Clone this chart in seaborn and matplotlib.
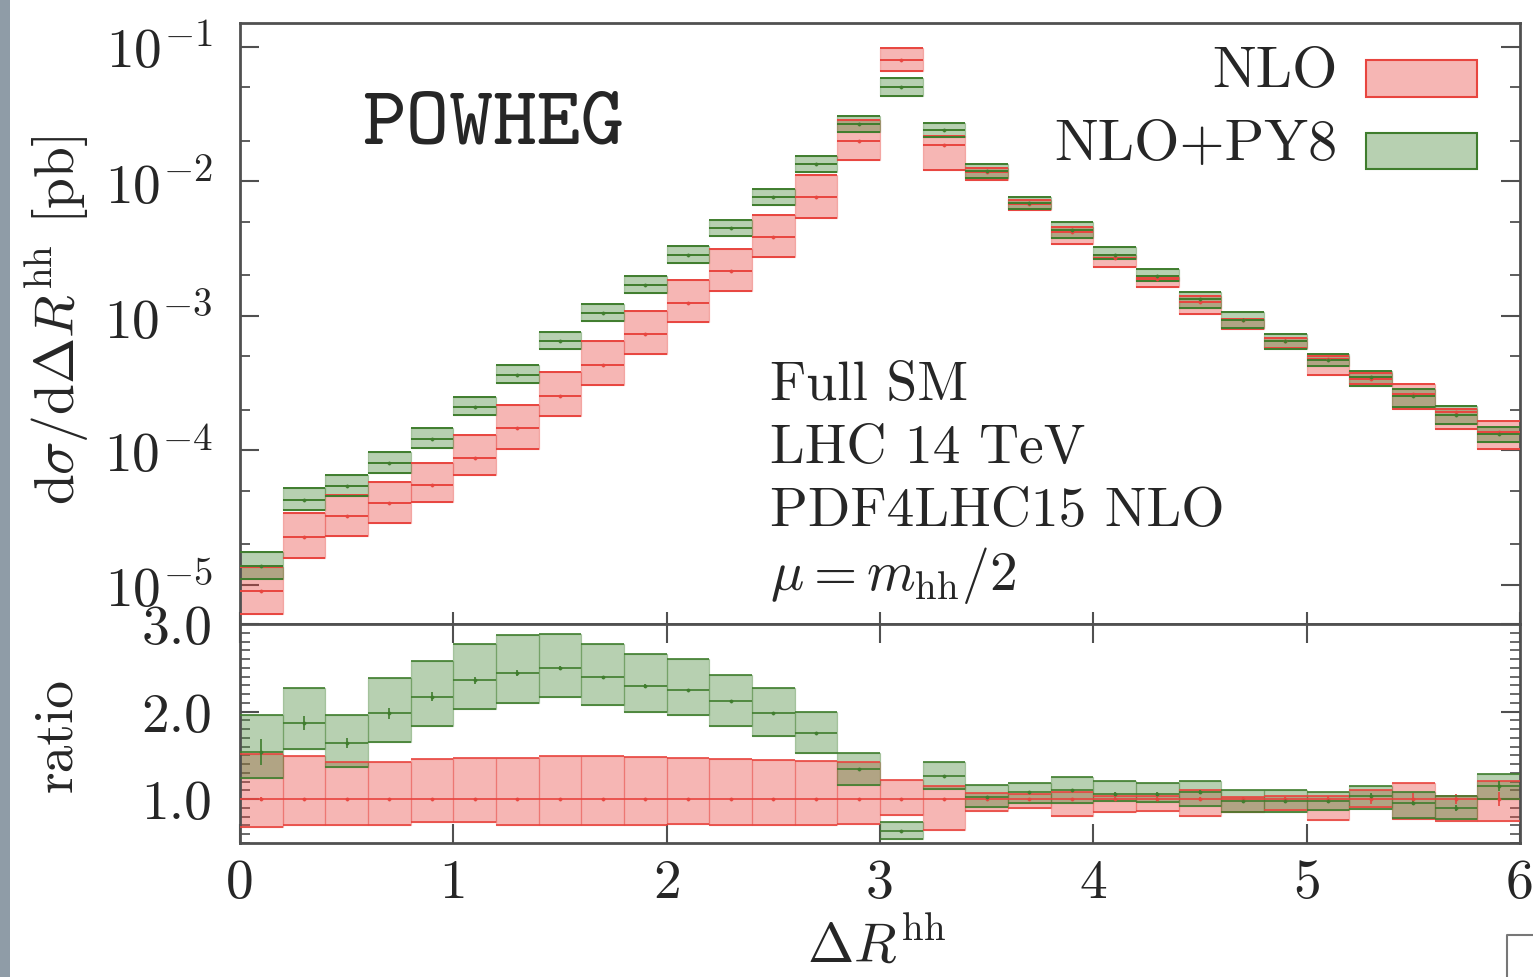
import numpy as np
import matplotlib
matplotlib.use("Agg")
import matplotlib.pyplot as plt
import seaborn as sns
from matplotlib.patches import Rectangle
from matplotlib.lines import Line2D
from matplotlib.colors import to_rgba
from matplotlib.ticker import FixedLocator, MultipleLocator, NullFormatter

# ---------------- data ----------------
bin_left = [0.0, 0.2, 0.4, 0.6, 0.8, 1.0, 1.2, 1.4, 1.6, 1.8,
            2.0, 2.2, 2.4, 2.6, 2.8, 3.0, 3.2, 3.4, 3.6, 3.8,
            4.0, 4.2, 4.4, 4.6, 4.8, 5.0, 5.2, 5.4, 5.6, 5.8]
bin_width = 0.2

# top panel: central values [pb]
nlo_xsec = [8.9e-6, 2.27e-5, 3.26e-5, 4.07e-5, 5.54e-5, 8.8e-5, 1.47e-4, 2.54e-4, 4.32e-4, 7.35e-4,
            1.25e-3, 2.16e-3, 3.87e-3, 7.67e-3, 2.0e-2, 8.0e-2, 1.87e-2, 1.18e-2, 6.81e-3, 4.21e-3,
            2.70e-3, 1.88e-3, 1.27e-3, 9.33e-4, 6.52e-4, 4.79e-4, 3.40e-4, 2.63e-4, 1.93e-4, 1.37e-4]
py8_xsec = [1.38e-5, 4.29e-5, 5.45e-5, 8.07e-5, 1.22e-4, 2.11e-4, 3.64e-4, 6.52e-4, 1.05e-3, 1.70e-3,
            2.84e-3, 4.51e-3, 7.67e-3, 1.35e-2, 2.68e-2, 5.04e-2, 2.42e-2, 1.20e-2, 6.93e-3, 4.35e-3,
            2.84e-3, 1.98e-3, 1.34e-3, 9.33e-4, 6.52e-4, 4.71e-4, 3.52e-4, 2.54e-4, 1.84e-4, 1.33e-4]

# ratio panel: NLO scale band relative to NLO central
nlo_ratio_lo = [0.68, 0.70, 0.70, 0.71, 0.74, 0.74, 0.70, 0.71, 0.71, 0.71,
                0.72, 0.71, 0.71, 0.70, 0.72, 0.82, 0.65, 0.87, 0.90, 0.81,
                0.85, 0.87, 0.81, 0.85, 0.88, 0.76, 0.91, 0.77, 0.75, 0.75]
nlo_ratio_hi = [1.52, 1.49, 1.43, 1.43, 1.46, 1.47, 1.47, 1.49, 1.49, 1.48,
                1.47, 1.46, 1.45, 1.44, 1.43, 1.22, 1.15, 1.07, 1.06, 1.08,
                1.04, 1.04, 1.10, 1.02, 1.04, 1.04, 1.10, 1.18, 1.04, 1.21]
# ratio panel: NLO+PY8 relative to NLO central
py8_ratio = [1.54, 1.87, 1.64, 1.98, 2.17, 2.36, 2.44, 2.50, 2.39, 2.29,
             2.25, 2.12, 1.98, 1.76, 1.34, 0.64, 1.27, 1.03, 1.08, 1.10,
             1.06, 1.06, 1.08, 0.98, 0.98, 0.98, 1.04, 0.96, 0.90, 1.15]
py8_ratio_lo = [1.24, 1.57, 1.37, 1.65, 1.84, 2.03, 2.10, 2.17, 2.07, 1.99,
                1.96, 1.83, 1.72, 1.53, 1.16, 0.55, 1.12, 0.91, 0.96, 0.96,
                0.98, 0.97, 0.92, 0.85, 0.85, 0.88, 0.89, 0.79, 0.77, 1.00]
py8_ratio_hi = [1.96, 2.27, 1.96, 2.38, 2.58, 2.77, 2.87, 2.89, 2.77, 2.66,
                2.60, 2.42, 2.27, 2.00, 1.53, 0.74, 1.43, 1.16, 1.18, 1.25,
                1.21, 1.19, 1.21, 1.11, 1.10, 1.08, 1.15, 1.08, 1.04, 1.29]
py8_ratio_stat = [0.15, 0.08, 0.06, 0.06, 0.05, 0.04, 0.03, 0.02, 0.02, 0.02,
                  0.01, 0.01, 0.01, 0.01, 0.01, 0.01, 0.01, 0.01, 0.01, 0.01,
                  0.02, 0.02, 0.02, 0.02, 0.02, 0.02, 0.03, 0.03, 0.03, 0.06]
nlo_ratio_stat = [0.02, 0.01, 0.01, 0.01, 0.01, 0.01, 0.01, 0.01, 0.01, 0.01,
                  0.01, 0.01, 0.01, 0.01, 0.01, 0.01, 0.01, 0.01, 0.01, 0.01,
                  0.02, 0.02, 0.02, 0.03, 0.03, 0.04, 0.05, 0.07, 0.06, 0.08]

labels = ["NLO", "NLO+PY8"]
ytick_vals = [1e-5, 1e-4, 1e-3, 1e-2, 1e-1]
ytick_labels = [r"$10^{-5}$", r"$10^{-4}$", r"$10^{-3}$", r"$10^{-2}$", r"$10^{-1}$"]
yminor_vals = [2e-5, 5e-5, 2e-4, 5e-4, 2e-3, 5e-3, 2e-2, 5e-2]
rtick_vals = [1.0, 2.0, 3.0]
rtick_labels = ["1.0", "2.0", "3.0"]
xtick_vals = [0, 1, 2, 3, 4, 5, 6]
info_lines = ["Full SM", "LHC 14 TeV", "PDF4LHC15 NLO", r"$\mu = m_{\rm hh}/2$"]

# ---------------- style ----------------
sns.set_theme(style="ticks")
plt.rcParams["font.family"] = ["cmr10", "DejaVu Serif"]
plt.rcParams["mathtext.fontset"] = "cm"
plt.rcParams["axes.formatter.use_mathtext"] = True
plt.rcParams["axes.unicode_minus"] = False

RED_FACE = to_rgba("#e8413c", 0.38)
RED_EDGE = "#e8453f"
RED_SIDE = to_rgba("#e8453f", 0.35)
GRN_FACE = to_rgba("#4b8a3c", 0.40)
GRN_EDGE = "#3f7d2d"
GRN_SIDE = to_rgba("#3f7d2d", 0.35)
SPINE = "#505050"
FS = 40

W, H = 1533, 978
fx = lambda px: px / W
fy = lambda py: 1 - py / H

fig = plt.figure(figsize=(W / 100, H / 100), dpi=100)
fig.patch.set_facecolor("white")
fig.patches.append(Rectangle((0, 0), fx(10), 1, transform=fig.transFigure,
                             facecolor="#8f9ca7", edgecolor="none", zorder=-5))

ax = fig.add_axes([fx(240), fy(625), fx(1520) - fx(240), fy(24) - fy(625)])
axr = fig.add_axes([fx(240), fy(844), fx(1520) - fx(240), fy(625) - fy(844)], sharex=ax)

left = np.array(bin_left)
right = left + bin_width
centers = left + bin_width / 2


def draw_boxes(a, lo, hi, mid, face, edge, side, stat=None, lw=1.4):
    lo = np.asarray(lo); hi = np.asarray(hi); mid = np.asarray(mid)
    a.bar(left, hi - lo, bottom=lo, width=bin_width, align="edge",
          facecolor=face, edgecolor=side, linewidth=0.9, zorder=2)
    a.hlines(lo, left, right, color=edge, lw=lw, zorder=3)
    a.hlines(hi, left, right, color=edge, lw=lw, zorder=3)
    a.hlines(mid, left, right, color=edge, lw=lw, zorder=3)
    if stat is not None:
        a.vlines(centers, mid - np.asarray(stat), mid + np.asarray(stat),
                 color=edge, lw=1.2, zorder=3)
    sns.scatterplot(x=centers, y=mid, ax=a, s=6, color=edge, edgecolor=edge,
                    marker="o", legend=False, zorder=4)


# ---- top panel ----
nlo_c = np.array(nlo_xsec)
py8_c = np.array(py8_xsec)
draw_boxes(ax, nlo_c * np.array(nlo_ratio_lo), nlo_c * np.array(nlo_ratio_hi), nlo_c,
           RED_FACE, RED_EDGE, RED_SIDE)
draw_boxes(ax, py8_c * np.array(py8_ratio_lo) / np.array(py8_ratio),
           py8_c * np.array(py8_ratio_hi) / np.array(py8_ratio), py8_c,
           GRN_FACE, GRN_EDGE, GRN_SIDE)

ax.set_yscale("log")
ax.set_ylim(5.1e-6, 0.15)
ax.set_xlim(0, 6)
ax.yaxis.set_major_locator(FixedLocator(ytick_vals))
ax.set_yticklabels(ytick_labels)
ax.yaxis.set_minor_locator(FixedLocator(yminor_vals))
ax.yaxis.set_minor_formatter(NullFormatter())
ax.xaxis.set_major_locator(FixedLocator(xtick_vals))
ax.xaxis.set_minor_locator(FixedLocator([]))
ax.tick_params(axis="y", which="major", direction="in", length=14, width=1.5,
               left=True, right=True, labelsize=FS, pad=20, color=SPINE)
ax.tick_params(axis="y", which="minor", direction="in", length=7, width=1.3,
               left=True, right=True, color=SPINE)
ax.tick_params(axis="x", which="major", direction="in", length=9, width=1.5,
               bottom=True, top=False, labelbottom=False, color=SPINE)
ax.set_ylabel(r"$\mathrm{d}\sigma/\mathrm{d}\Delta R^{\rm hh}$ [pb]", fontsize=FS, va="center")
ax.yaxis.set_label_coords((57 - 240) / 1280, (625 - 320) / 601)

# ---- ratio panel ----
ones = np.ones(len(bin_left))
draw_boxes(axr, nlo_ratio_lo, nlo_ratio_hi, ones, RED_FACE, RED_EDGE, RED_SIDE, stat=nlo_ratio_stat, lw=1.2)
draw_boxes(axr, py8_ratio_lo, py8_ratio_hi, py8_ratio, GRN_FACE, GRN_EDGE, GRN_SIDE, stat=py8_ratio_stat, lw=1.2)
axr.set_ylim(0.5, 3.0)
axr.set_xlim(0, 6)
axr.yaxis.set_major_locator(FixedLocator(rtick_vals))
axr.set_yticklabels(rtick_labels)
axr.yaxis.set_minor_locator(MultipleLocator(0.1))
axr.yaxis.set_minor_formatter(NullFormatter())
axr.xaxis.set_major_locator(FixedLocator(xtick_vals))
axr.set_xticklabels([str(v) for v in xtick_vals])
axr.tick_params(axis="y", which="major", direction="in", length=14, width=1.5,
                left=True, right=True, labelsize=FS, pad=20, color=SPINE)
axr.tick_params(axis="y", which="minor", direction="in", length=7, width=1.2,
                left=True, right=True, color=SPINE)
axr.tick_params(axis="x", which="major", direction="in", length=14, width=1.5,
                bottom=True, top=True, labelsize=FS, pad=11, color=SPINE)
axr.set_ylabel("ratio", fontsize=FS, va="center")
axr.yaxis.set_label_coords((57 - 240) / 1280, (844 - 735) / 219)
axr.set_xlabel(r"$\Delta R^{\rm hh}$", fontsize=FS, va="center")
axr.xaxis.set_label_coords((877 - 240) / 1280, (844 - 946) / 219)

for a in (ax, axr):
    for s in a.spines.values():
        s.set_color(SPINE)
        s.set_linewidth(2.0)
        s.set_visible(True)

# ---- annotations ----
fig.text(fx(362), fy(127), "POWHEG", family=["cmtt10", "DejaVu Sans Mono"], fontsize=60,
         ha="left", va="center")
for i, line in enumerate(info_lines):
    fig.text(fx(770), fy(386 + 63 * i), line, fontsize=FS, ha="left", va="center")

# legend: label text right-aligned, swatch to the right
legend_faces = [RED_FACE, GRN_FACE]
legend_edges = [RED_EDGE, GRN_EDGE]
legend_text_y = [72, 145]
legend_box_y = [(61, 98), (134, 170)]
for lab, fc, ec, ty, (b0, b1) in zip(labels, legend_faces, legend_edges, legend_text_y, legend_box_y):
    fig.text(fx(1338), fy(ty), lab, fontsize=42, ha="right", va="center")
    fig.patches.append(Rectangle((fx(1366), fy(b1)), fx(1477) - fx(1366), (b1 - b0) / H,
                                 transform=fig.transFigure, facecolor=fc, edgecolor=ec,
                                 linewidth=1.5, zorder=5))

# fragment of a neighbouring frame at bottom-right
fig.lines.append(Line2D([fx(1507), fx(1507), fx(1533)], [fy(978), fy(936), fy(936)],
                        transform=fig.transFigure, color="#777777", lw=1.5))

fig.savefig("out.png", dpi=100)
